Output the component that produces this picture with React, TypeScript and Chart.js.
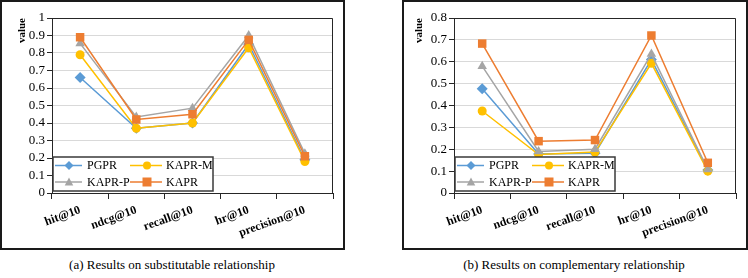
import React, { useEffect, useRef } from 'react';
import { Chart, registerables } from 'chart.js';

Chart.register(...registerables);

// ---------- data ----------
const CATEGORIES = ['hit@10', 'ndcg@10', 'recall@10', 'hr@10', 'precision@10'];
const SERIES_NAMES = ['PGPR', 'KAPR-M', 'KAPR-P', 'KAPR'];

// (a) substitutable relationship
const SUB_PGPR = [0.66, 0.37, 0.40, 0.85, 0.19];
const SUB_KAPR_M = [0.79, 0.37, 0.40, 0.83, 0.18];
const SUB_KAPR_P = [0.855, 0.435, 0.485, 0.90, 0.225];
const SUB_KAPR = [0.89, 0.42, 0.45, 0.875, 0.21];
const SUB_Y_MAX = 1;

// (b) complementary relationship
const COMP_PGPR = [0.477, 0.178, 0.182, 0.61, 0.105];
const COMP_KAPR_M = [0.375, 0.176, 0.187, 0.593, 0.10];
const COMP_KAPR_P = [0.58, 0.19, 0.20, 0.635, 0.108];
const COMP_KAPR = [0.683, 0.237, 0.242, 0.72, 0.138];
const COMP_Y_MAX = 0.8;

const Y_STEP = 0.1;

const CAPTION_A = '(a) Results on substitutable relationship';
const CAPTION_B = '(b) Results on complementary relationship';

// ---------- styles ----------
const COLORS = ['#5B9BD5', '#FFC000', '#A5A5A5', '#ED7D31'];
const MARKERS = ['rectRot', 'circle', 'triangle', 'rect'];
const RADII = [5.5, 4.5, 5.5, 6];
const FONT = '"Liberation Serif", "Times New Roman", serif';
const AXIS = '#262626';

function drawMarker(ctx: CanvasRenderingContext2D, style: string, x: number, y: number, r: number, color: string) {
  ctx.save();
  ctx.fillStyle = color;
  ctx.beginPath();
  if (style === 'circle') {
    ctx.arc(x, y, r, 0, Math.PI * 2);
  } else if (style === 'rect') {
    ctx.rect(x - r, y - r, 2 * r, 2 * r);
  } else if (style === 'rectRot') {
    ctx.moveTo(x, y - r);
    ctx.lineTo(x + r, y);
    ctx.lineTo(x, y + r);
    ctx.lineTo(x - r, y);
    ctx.closePath();
  } else {
    ctx.moveTo(x, y - r);
    ctx.lineTo(x + r * 0.95, y + r * 0.75);
    ctx.lineTo(x - r * 0.95, y + r * 0.75);
    ctx.closePath();
  }
  ctx.fill();
  ctx.restore();
}

const frameLegendPlugin = {
  id: 'frameLegend',
  beforeDatasetsDraw(chart: any) {
    const { ctx, chartArea: a } = chart;
    ctx.save();
    ctx.strokeStyle = AXIS;
    ctx.lineWidth = 1;
    ctx.beginPath();
    const t = Math.round(a.top) + 0.5;
    const r = Math.round(a.right) - 0.5;
    ctx.moveTo(a.left, t);
    ctx.lineTo(r, t);
    ctx.lineTo(r, a.bottom);
    ctx.stroke();
    ctx.restore();
  },
  afterDraw(chart: any) {
    const { ctx, chartArea: a } = chart;
    const w = 160;
    const h = 34;
    const left = Math.round(a.left) + 1;
    const top = Math.round(a.bottom) - 2 - h;
    ctx.save();
    ctx.fillStyle = '#ffffff';
    ctx.fillRect(left, top, w, h);
    ctx.strokeStyle = '#3a3a3a';
    ctx.lineWidth = 1.5;
    ctx.strokeRect(left, top, w, h);
    const cols = [
      { l0: 2, l1: 29, m: 16, t: 34 },
      { l0: 77, l1: 109, m: 94, t: 113 },
    ];
    const rows = [8.5, 25];
    chart.data.datasets.forEach((ds: any, i: number) => {
      const c = cols[i % 2];
      const y = top + rows[Math.floor(i / 2)];
      ctx.strokeStyle = ds.borderColor;
      ctx.lineWidth = 1.5;
      ctx.beginPath();
      ctx.moveTo(left + c.l0, y);
      ctx.lineTo(left + c.l1, y);
      ctx.stroke();
      drawMarker(ctx, ds.pointStyle, left + c.m, y, ds.pointStyle === 'circle' ? 4 : 4.5, ds.borderColor);
      ctx.fillStyle = '#000';
      ctx.font = `12px ${FONT}`;
      ctx.textAlign = 'left';
      ctx.textBaseline = 'middle';
      ctx.fillText(ds.label, left + c.t, y + 0.5);
    });
    ctx.restore();
  },
};

type Props = { series: number[][]; yMax: number; width: number; height: number; titlePad: number };

function LineChart({ series, yMax, width, height, titlePad }: Props) {
  const ref = useRef<HTMLCanvasElement>(null);
  useEffect(() => {
    const chart = new Chart(ref.current as HTMLCanvasElement, {
      type: 'line',
      data: {
        labels: CATEGORIES,
        datasets: SERIES_NAMES.map((name, i) => ({
          label: name,
          data: series[i],
          borderColor: COLORS[i],
          backgroundColor: COLORS[i],
          pointBackgroundColor: COLORS[i],
          pointBorderColor: COLORS[i],
          pointStyle: MARKERS[i] as any,
          pointRadius: RADII[i],
          pointBorderWidth: 0,
          borderWidth: 1.5,
          tension: 0,
          fill: false,
          order: SERIES_NAMES.length - i,
        })),
      },
      options: {
        responsive: false,
        animation: false,
        devicePixelRatio: 1,
        layout: { padding: { top: 16, right: 10, bottom: 0, left: 0 } },
        plugins: { legend: { display: false }, tooltip: { enabled: false } },
        scales: {
          x: {
            type: 'category',
            offset: true,
            grid: { offset: true, drawOnChartArea: false, drawTicks: true, tickLength: 6, color: AXIS, lineWidth: 1 },
            border: { display: true, color: AXIS, width: 1 },
            ticks: {
              color: '#000',
              font: { family: FONT, size: 12, weight: 'bold' },
              minRotation: 20,
              maxRotation: 20,
              padding: 4,
              autoSkip: false,
            },
            afterFit: (s: any) => {
              s.height = 55;
            },
          },
          y: {
            min: 0,
            max: yMax,
            ticks: {
              stepSize: Y_STEP,
              autoSkip: false,
              color: '#000',
              font: { family: FONT, size: 13 },
              padding: 2,
              callback: (v: any) => Number(v).toFixed(1).replace(/\.0$/, ''),
            },
            grid: { color: '#d9d9d9', tickColor: AXIS, tickLength: 5, lineWidth: 1 },
            border: { display: true, color: AXIS, width: 1 },
            title: {
              display: true,
              text: 'value',
              align: 'end',
              color: '#000',
              font: { family: FONT, size: 11, weight: 'bold' },
              padding: { top: titlePad, bottom: 0 },
            },
            afterFit: (s: any) => {
              s.width = 50;
            },
          },
        },
      },
      plugins: [frameLegendPlugin],
    });
    return () => chart.destroy();
  }, []);
  return <canvas ref={ref} width={width} height={height} style={{ display: 'block', width, height }} />;
}

const boxStyle = (left: number, width: number): React.CSSProperties => ({
  position: 'absolute',
  left,
  top: 0,
  width,
  height: 250,
  border: '2px solid #1a1a1a',
  boxSizing: 'border-box',
  background: '#fff',
});

const captionStyle = (center: number): React.CSSProperties => ({
  position: 'absolute',
  left: center - 150,
  width: 300,
  top: 257,
  textAlign: 'center',
  fontFamily: FONT,
  fontSize: 13,
  lineHeight: '16px',
  color: '#000',
  whiteSpace: 'nowrap',
});

export default function App() {
  return (
    <div style={{ position: 'absolute', left: 0, top: 0, width: 748, height: 278, background: '#fff', overflow: 'hidden' }}>
      <div style={boxStyle(0, 345)}>
        <LineChart series={[SUB_PGPR, SUB_KAPR_M, SUB_KAPR_P, SUB_KAPR]} yMax={SUB_Y_MAX} width={341} height={246} titlePad={14} />
      </div>
      <div style={boxStyle(402, 346)}>
        <LineChart series={[COMP_PGPR, COMP_KAPR_M, COMP_KAPR_P, COMP_KAPR]} yMax={COMP_Y_MAX} width={342} height={246} titlePad={9} />
      </div>
      <div style={captionStyle(172)}>{CAPTION_A}</div>
      <div style={captionStyle(574)}>{CAPTION_B}</div>
    </div>
  );
}
